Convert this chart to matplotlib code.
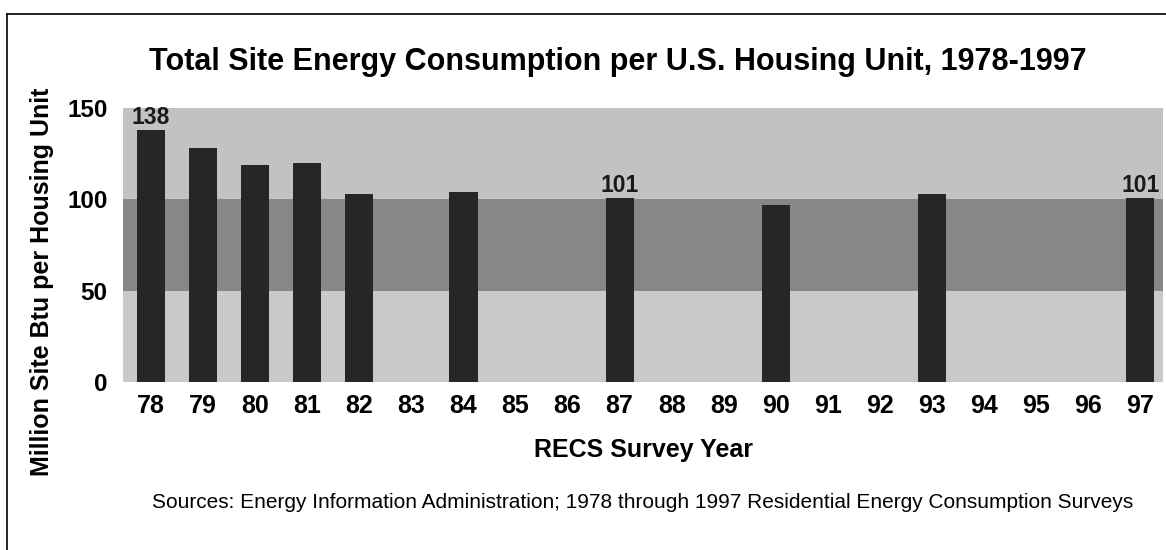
import matplotlib
matplotlib.use("Agg")
import matplotlib.pyplot as plt
from matplotlib.lines import Line2D

plt.rcParams['font.family'] = ['Liberation Sans', 'DejaVu Sans']

years = ['78', '79', '80', '81', '82', '83', '84', '85', '86', '87',
         '88', '89', '90', '91', '92', '93', '94', '95', '96', '97']
survey_years = ['78', '79', '80', '81', '82', '84', '87', '90', '93', '97']
consumption = [138, 128, 119, 120, 103, 104, 101, 97, 103, 101]
labelled = ['78', '87', '97']

bands = [(0, 50, '#c9c9c9'), (50, 100, '#888888'), (100, 150, '#c2c2c2')]

fig = plt.figure(figsize=(11.66, 5.5), dpi=100)
ax = fig.add_axes([0.1055, 0.3055, 0.892, 0.498])

for lo, hi, c in bands:
    ax.axhspan(lo, hi, color=c, zorder=0, lw=0)

xpos = [years.index(y) for y in survey_years]
ax.bar(xpos, consumption, width=0.54, color='#262626', zorder=2)
for x, y, v in zip(xpos, survey_years, consumption):
    if y in labelled:
        ax.text(x, v + 0.5, str(v), ha='center', va='bottom',
                fontsize=16.5, fontweight='bold', color='#1a1a1a')

ax.set_xlim(-0.54, 19.44)
ax.set_ylim(0, 150)
ax.set_xticks(range(len(years)))
ax.set_xticklabels(years, fontsize=18, fontweight='bold')
ax.set_yticks([0, 50, 100, 150])
ax.set_yticklabels(['0', '50', '100', '150'], fontsize=17.5, fontweight='bold')
ax.tick_params(axis='x', length=0, pad=9)
ax.tick_params(axis='y', length=0, pad=11)
for s in ax.spines.values():
    s.set_visible(False)

ax.set_xlabel('RECS Survey Year', fontsize=18, fontweight='bold', labelpad=14)
fig.text(0.036, 0.487, 'Million Site Btu per Housing Unit', rotation=90,
         ha='center', va='center', fontsize=18, fontweight='bold')
fig.text(0.530, 0.887, 'Total Site Energy Consumption per U.S. Housing Unit, 1978-1997',
         ha='center', va='center', fontsize=22, fontweight='bold')
fig.text(0.551, 0.087, 'Sources: Energy Information Administration; 1978 through 1997 '
         'Residential Energy Consumption Surveys',
         ha='center', va='center', fontsize=15)

# scanned frame edges
fig.add_artist(Line2D([0.006, 0.006], [0.0, 0.975], color='black', lw=1.2))
fig.add_artist(Line2D([0.006, 1.0], [0.975, 0.975], color='black', lw=1.2))

fig.savefig('out.png', dpi=100)
